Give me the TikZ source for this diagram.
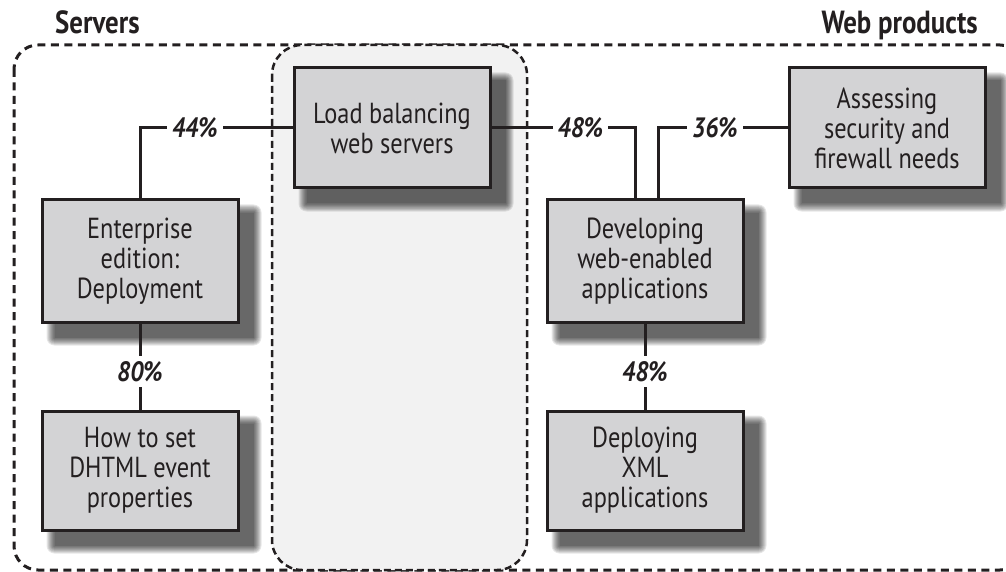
\documentclass[tikz,border=0pt]{standalone}
\usepackage{fontspec}
\setmainfont[FakeStretch=0.84]{PT Sans}
\newfontfamily\pctfont[FakeStretch=0.86]{PT Sans}

\definecolor{ink}{HTML}{231F20}
\definecolor{boxfill}{HTML}{D3D3D5}
\definecolor{panelfill}{HTML}{F2F2F2}

\pgfdeclarelayer{frames}
\pgfdeclarelayer{shade}
\pgfsetlayers{frames,shade,main}

\tikzset{
  card/.style={draw=ink, line width=3pt, fill=boxfill,
    minimum width=196pt, minimum height=120pt, inner sep=0pt,
    align=center, text=ink,
    font=\fontsize{29pt}{30pt}\selectfont},
  conn/.style={draw=ink, line width=3pt},
  pct/.style={fill=white, inner sep=5pt, text=ink,
    font=\pctfont\bfseries\itshape\fontsize{28pt}{28pt}\selectfont},
  head/.style={text=ink, inner sep=0pt,
    font=\bfseries\fontsize{32pt}{32pt}\selectfont},
  outerframe/.style={draw=ink, line width=3pt, dash pattern=on 8pt off 5.5pt,
    rounded corners=24pt},
  panel/.style={draw=ink, fill=panelfill, line width=2.5pt,
    dash pattern=on 7pt off 4pt, rounded corners=30pt},
  shadelayer/.style={fill=black, opacity=0.095}
}

% soft drop shadow below and right of a named box
\newcommand\dropshade[1]{%
  \foreach \d in {0,...,8}{%
    \fill[shadelayer, rounded corners=\d pt]
      ([shift={(14-\d,14-\d)}]#1.north west) rectangle
      ([shift={(14+\d,14+\d)}]#1.south east);
  }}

\begin{document}
\begin{tikzpicture}[x=1pt, y=-1pt]
\useasboundingbox (0,0) rectangle (1006,572);

% group frames
\begin{pgfonlayer}{frames}
\draw[outerframe] (14,45) rectangle (1024,570);
\draw[panel] (272,45) rectangle (527,570);
\end{pgfonlayer}

% group titles
\node[head, anchor=base west] (servers) at (55,34) {Servers};
\node[head, anchor=base east] (webprod) at (978,34) {Web products};

% topic boxes
\node[card] (lb)  at (392,128)   {Load balancing\\web servers};
\node[card] (as)  at (887,128)   {Assessing\\security and\\firewall needs};
\node[card, minimum height=122pt] (ent) at (140,261)   {Enterprise\\edition:\\Deployment};
\node[card, minimum height=119pt] (how) at (140,470.5) {How to set\\DHTML event\\properties};
\node[card, minimum height=122pt] (dev) at (645,261)   {Developing\\web-enabled\\applications};
\node[card, minimum height=119pt] (xml) at (645,470.5) {Deploying\\XML\\applications};

\begin{pgfonlayer}{shade}
\dropshade{lb}\dropshade{as}\dropshade{ent}
\dropshade{how}\dropshade{dev}\dropshade{xml}
\end{pgfonlayer}

% links with shares
\draw[conn] (ent.north) |- node[pct, pos=0.68] {44\%} (lb.west);
\draw[conn] (lb.east) -| node[pct, pos=0.31] {48\%} ([xshift=-10pt]dev.north);
\draw[conn] ([xshift=13pt]dev.north) |- node[pct, pos=0.72] {36\%} (as.west);
\draw[conn] (ent.south) -- node[pct, pos=0.56] {80\%} (how.north);
\draw[conn] (dev.south) -- node[pct, pos=0.56] {48\%} (xml.north);
\end{tikzpicture}
\end{document}
